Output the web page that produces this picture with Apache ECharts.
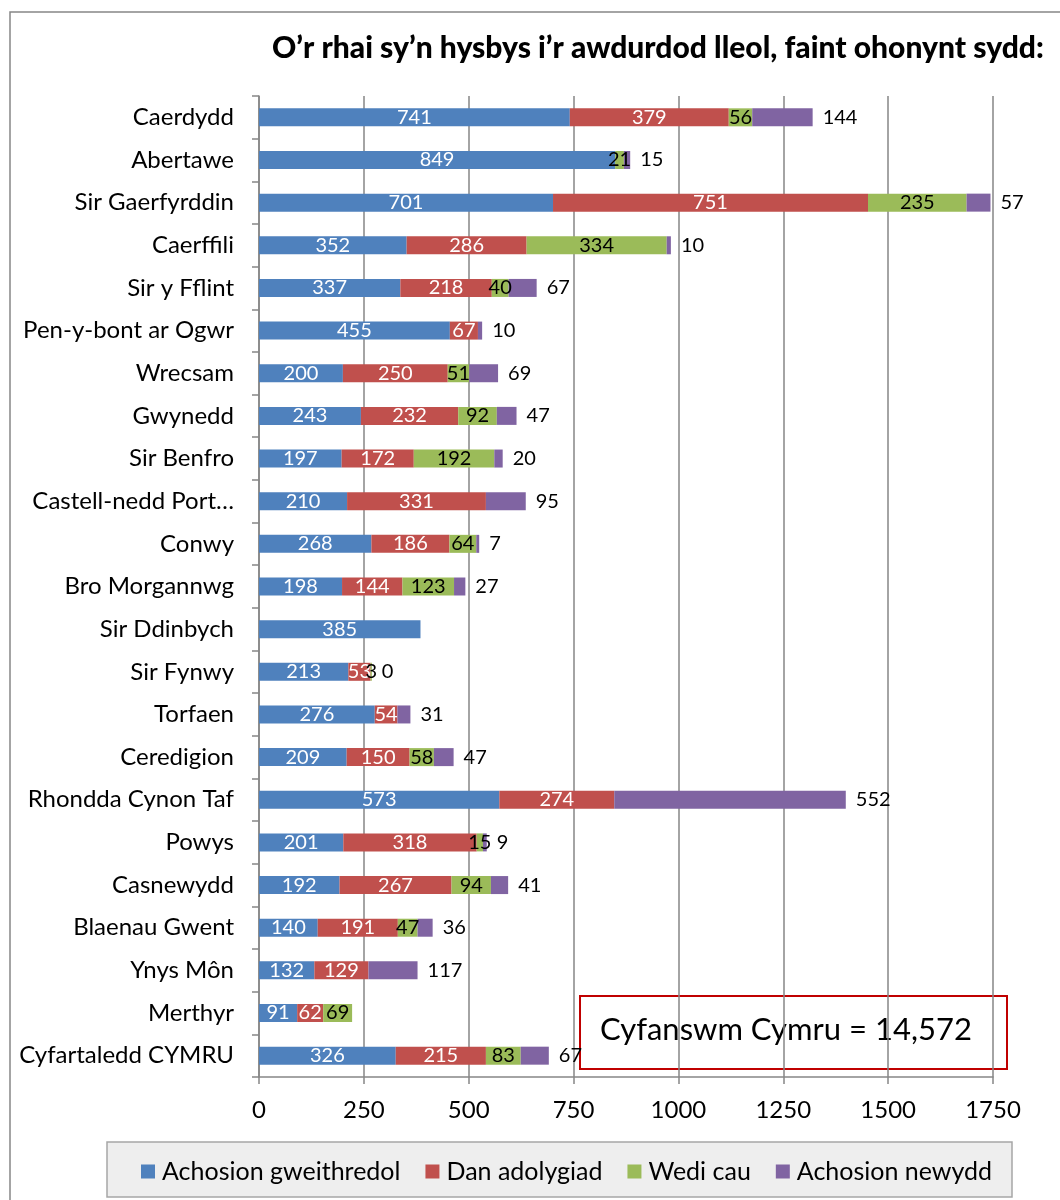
<!DOCTYPE html>
<html>
<head>
<meta charset="utf-8">
<script src="https://cdn.jsdelivr.net/npm/echarts@6/dist/echarts.min.js"></script>
<style>
  html, body { margin: 0; padding: 0; background: #ffffff; }
  #chart { width: 1060px; height: 1200px; }
</style>
</head>
<body>
<div id="chart"></div>
<script>
// Local authorities (top to bottom)
const categories = [
  'Caerdydd', 'Abertawe', 'Sir Gaerfyrddin', 'Caerffili', 'Sir y Fflint',
  'Pen-y-bont ar Ogwr', 'Wrecsam', 'Gwynedd', 'Sir Benfro', 'Castell-nedd Port…',
  'Conwy', 'Bro Morgannwg', 'Sir Ddinbych', 'Sir Fynwy', 'Torfaen',
  'Ceredigion', 'Rhondda Cynon Taf', 'Powys', 'Casnewydd', 'Blaenau Gwent',
  'Ynys Môn', 'Merthyr', 'Cyfartaledd CYMRU'
];

const seriesNames = ['Achosion gweithredol', 'Dan adolygiad', 'Wedi cau', 'Achosion newydd'];

// Active cases
const activeCases = [741, 849, 701, 352, 337, 455, 200, 243, 197, 210, 268, 198, 385, 213, 276, 209, 573, 201, 192, 140, 132, 91, 326];
// Under review
const underReview = [379, null, 751, 286, 218, 67, 250, 232, 172, 331, 186, 144, null, 53, 54, 150, 274, 318, 267, 191, 129, 62, 215];
// Closed
const closedCases = [56, 21, 235, 334, 40, null, 51, 92, 192, null, 64, 123, null, 3, null, 58, null, 15, 94, 47, null, 69, 83];
// New cases
const newCases = [144, 15, 57, 10, 67, 10, 69, 47, 20, 95, 7, 27, null, 0, 31, 47, 552, 9, 41, 36, 117, null, 67];

const xTicks = { min: 0, max: 1750, interval: 250 };

const titleText = 'O’r rhai sy’n hysbys i’r awdurdod lleol, faint ohonynt sydd:';
const totalText = 'Cyfanswm Cymru = 14,572';

const colors = ['#4F81BD', '#C0504D', '#9BBB59', '#8064A2'];
const FONT = 'Lato, "Open Sans", sans-serif';
const GRID_GRAY = '#868686';

const chart = echarts.init(document.getElementById('chart'), null, { renderer: 'canvas' });

function barSeries(idx, values, label) {
  return {
    name: seriesNames[idx],
    type: 'bar',
    stack: 'total',
    barWidth: 18,
    data: values,
    itemStyle: { color: colors[idx] },
    label: Object.assign({
      show: true,
      fontFamily: FONT,
      fontSize: 20
    }, label),
    emphasis: { disabled: true }
  };
}

const option = {
  animation: false,
  backgroundColor: '#ffffff',
  color: colors,
  title: {
    text: titleText,
    left: 267,
    top: 28,
    textStyle: { fontFamily: FONT, fontSize: 30, fontWeight: 900, color: '#000' }
  },
  grid: { left: 259, right: 67, top: 96, bottom: 123, containLabel: false },
  legend: {
    left: 136,
    top: 1154,
    itemWidth: 14,
    itemHeight: 14,
    itemGap: 25,
    icon: 'rect',
    textStyle: { fontFamily: FONT, fontSize: 25, color: '#000', padding: [0, 0, 0, 2] },
    data: seriesNames
  },
  xAxis: {
    type: 'value',
    min: xTicks.min,
    max: xTicks.max,
    interval: xTicks.interval,
    axisLine: { show: true, lineStyle: { color: GRID_GRAY, width: 1.5 } },
    axisTick: { show: true, length: 7, lineStyle: { color: GRID_GRAY, width: 1.5 } },
    axisLabel: {
      fontFamily: FONT, fontSize: 24, color: '#000', margin: 21,
      formatter: (v) => String(v)
    },
    splitLine: { show: true, lineStyle: { color: GRID_GRAY, width: 1.5 } }
  },
  yAxis: {
    type: 'category',
    inverse: true,
    data: categories,
    axisLine: { show: true, lineStyle: { color: GRID_GRAY, width: 1.5 } },
    axisTick: { show: true, length: 7, lineStyle: { color: GRID_GRAY, width: 1.5 } },
    axisLabel: { fontFamily: FONT, fontSize: 24, color: '#000', margin: 25 }
  },
  series: [
    barSeries(0, activeCases, { position: 'inside', color: '#ffffff' }),
    barSeries(1, underReview, { position: 'inside', color: '#ffffff' }),
    barSeries(2, closedCases, { position: 'inside', color: '#000000' }),
    barSeries(3, newCases, { position: 'right', distance: 10, color: '#000000' })
  ],
  graphic: [
    {
      type: 'rect',
      silent: true,
      z: -10,
      shape: { x: 10, y: 12, width: 1100, height: 1250 },
      style: { fill: 'none', stroke: GRID_GRAY, lineWidth: 1.5 }
    },
    {
      type: 'rect',
      silent: true,
      z: -5,
      shape: { x: 107, y: 1142, width: 905, height: 55 },
      style: { fill: '#eeeeee', stroke: '#a6a6a6', lineWidth: 1.5 }
    },
    {
      type: 'group',
      z: 100,
      children: [
        {
          type: 'rect',
          shape: { x: 580, y: 996, width: 427, height: 73 },
          style: { fill: '#ffffff', stroke: '#C00000', lineWidth: 2 }
        },
        {
          type: 'text',
          x: 600,
          y: 1030,
          style: {
            text: totalText,
            fontFamily: FONT,
            fontSize: 31,
            fill: '#000',
            verticalAlign: 'middle'
          }
        }
      ]
    }
  ]
};

chart.setOption(option);
</script>
</body>
</html>
